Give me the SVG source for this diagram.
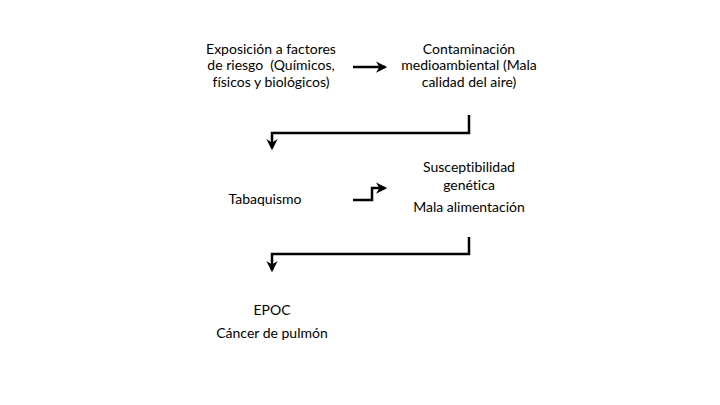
<svg xmlns="http://www.w3.org/2000/svg" width="720" height="405" viewBox="0 0 720 405">
<defs>
<style>
text{font-family:Lato,"Liberation Sans",sans-serif;font-size:14px;fill:#000;text-anchor:middle;font-variant-ligatures:none;white-space:pre}
.c{fill:none;stroke:#000;stroke-width:2.5}
</style>
<marker id="ah" viewBox="0 0 10 10" refX="8" refY="5" markerWidth="4.5" markerHeight="4.5" orient="auto" markerUnits="strokeWidth">
<path d="M0,0 L10,5 L0,10 L3,5 z" fill="#000"/>
</marker>
</defs>
<rect width="720" height="405" fill="#fff"/>
<g id="n1"><text x="271" y="54">Exposición a factores</text><text x="271" y="70" xml:space="preserve">de riesgo  (Químicos,</text><text x="271" y="87">físicos y biológicos)</text></g>
<g id="n2"><text x="469" y="54">Contaminación</text><text x="469" y="70">medioambiental (Mala</text><text x="469" y="87">calidad del aire)</text></g>
<g id="n3"><text x="265" y="204">Tabaquismo</text></g>
<g id="n4"><text x="469" y="172">Susceptibilidad</text><text x="469" y="190">genética</text><text x="469" y="212">Mala alimentación</text></g>
<g id="n5"><text x="272" y="315">EPOC</text><text x="272" y="338">Cáncer de pulmón</text></g>
<g id="connectors">
<path class="c" d="M353,67 H385" stroke-width="2" marker-end="url(#ah)"/>
<path class="c" d="M469,115 V133 H272 V148" marker-end="url(#ah)"/>
<path class="c" d="M353,200 H372 V188 H385" marker-end="url(#ah)"/>
<path class="c" d="M469,237 V254 H272 V270" marker-end="url(#ah)"/>
</g>
</svg>
